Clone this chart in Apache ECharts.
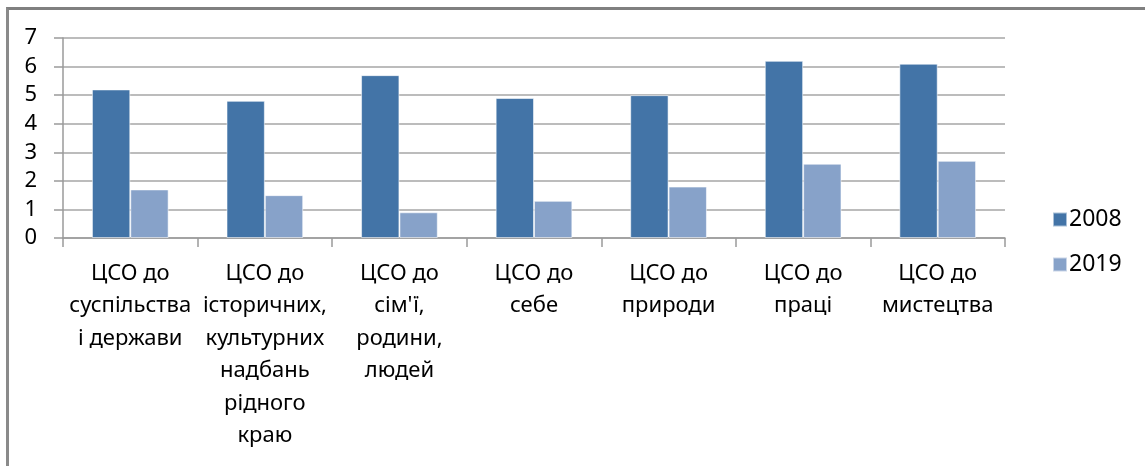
<!DOCTYPE html>
<html>
<head>
<meta charset="utf-8">
<script src="https://cdn.jsdelivr.net/npm/echarts@6/dist/echarts.min.js"></script>
<style>
html,body{margin:0;padding:0;background:#fff;}
#frame{position:absolute;left:6px;top:7px;width:1139px;height:459px;border-left:3px solid #8a8a8a;border-top:3px solid #808080;box-sizing:border-box;}
#chart{position:absolute;left:0;top:0;width:1145px;height:466px;}
</style>
</head>
<body>
<div id="frame"></div>
<div id="chart"></div>
<script>
const categories = [
  'ЦСО до\nсуспільства\nі держави',
  'ЦСО до\nісторичних,\nкультурних\nнадбань\nрідного\nкраю',
  'ЦСО до\nсім\'ї,\nродини,\nлюдей',
  'ЦСО до\nсебе',
  'ЦСО до\nприроди',
  'ЦСО до\nпраці',
  'ЦСО до\nмистецтва'
];
const seriesNames = ['2008', '2019'];
const values2008 = [5.2, 4.8, 5.7, 4.9, 5.0, 6.2, 6.1];
const values2019 = [1.7, 1.5, 0.9, 1.3, 1.8, 2.6, 2.7];
const yTicks = { min: 0, max: 7, interval: 1 };

const chart = echarts.init(document.getElementById('chart'), null, { renderer: 'canvas' });
const font = '"Noto Sans", "DejaVu Sans", sans-serif';
chart.setOption({
  backgroundColor: 'transparent',
  animation: false,
  textStyle: { fontFamily: font },
  grid: { left: 63, right: 140, top: 38, bottom: 228, containLabel: false },
  legend: {
    orient: 'vertical',
    left: 1047,
    top: 203,
    itemWidth: 14,
    itemHeight: 14,
    itemGap: 22,
    icon: 'rect',
    textStyle: { fontSize: 23, color: '#000', fontFamily: font, padding: [0, 0, 0, -3] },
    data: seriesNames
  },
  xAxis: {
    type: 'category',
    data: categories,
    boundaryGap: true,
    axisLine: { lineStyle: { color: '#9a9a9a', width: 1.5 } },
    axisTick: { show: true, alignWithLabel: false, length: 9, lineStyle: { color: '#9a9a9a', width: 1.5 } },
    axisLabel: { interval: 0, fontSize: 22, lineHeight: 32.5, color: '#000', margin: 19, fontFamily: font }
  },
  yAxis: {
    type: 'value',
    min: yTicks.min,
    max: yTicks.max,
    interval: yTicks.interval,
    axisLine: { show: true, lineStyle: { color: '#9a9a9a', width: 1.5 } },
    axisTick: { show: true, length: 9, lineStyle: { color: '#9a9a9a', width: 1.5 } },
    splitLine: { show: true, lineStyle: { color: '#a6a6a6', width: 1.5 } },
    axisLabel: { fontSize: 22, color: '#000', margin: 26, fontFamily: font }
  },
  series: [
    {
      name: seriesNames[0], type: 'bar', data: values2008,
      barGap: '0%', barCategoryGap: '43%',
      itemStyle: { color: '#4374a7', borderColor: 'rgba(255,255,255,0.55)', borderWidth: 1 }
    },
    {
      name: seriesNames[1], type: 'bar', data: values2019,
      barGap: '0%', barCategoryGap: '43%',
      itemStyle: { color: '#87a2c9', borderColor: 'rgba(255,255,255,0.55)', borderWidth: 1 }
    }
  ]
});
</script>
</body>
</html>
